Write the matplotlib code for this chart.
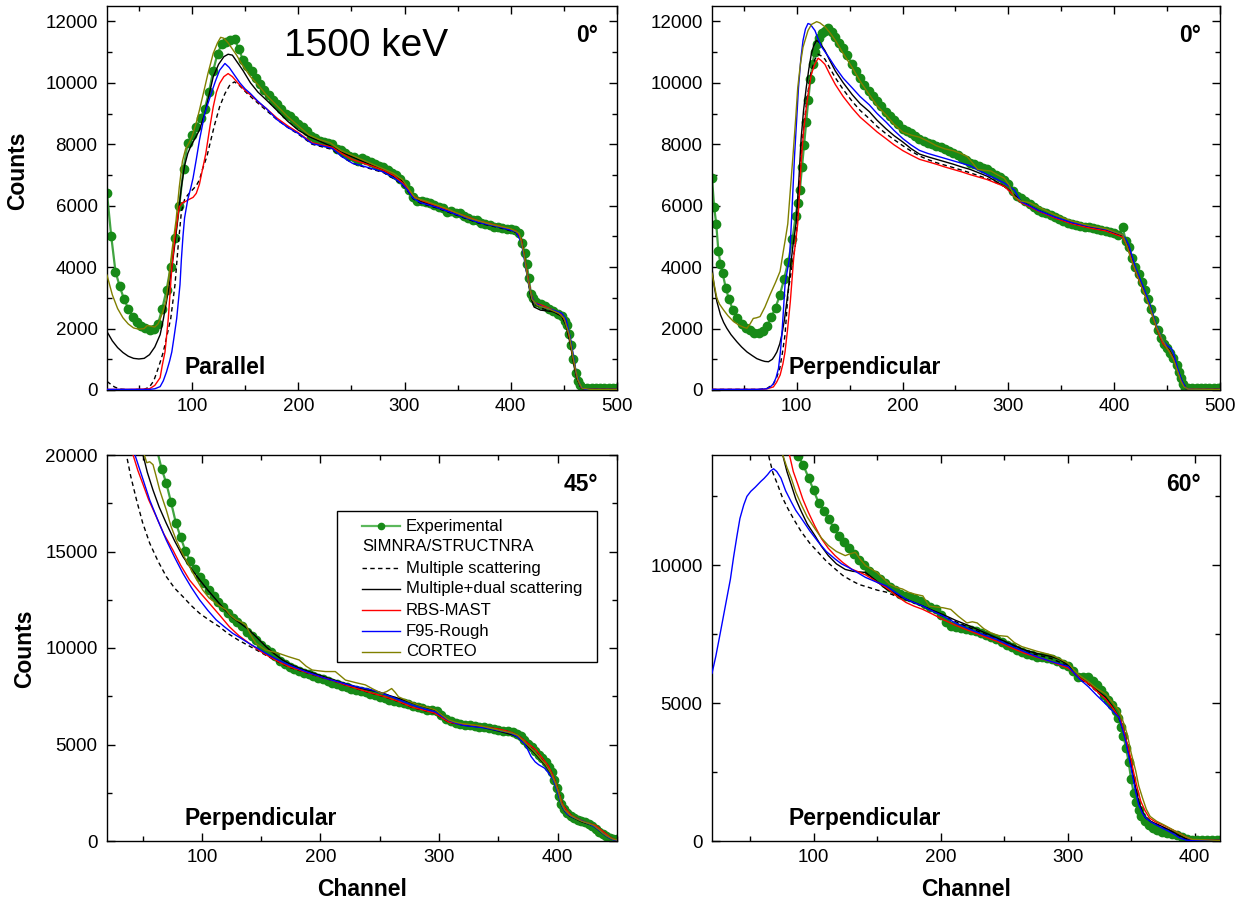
import matplotlib
matplotlib.use("Agg")
import matplotlib.pyplot as plt
from matplotlib.ticker import MultipleLocator
from matplotlib.patches import Rectangle
from matplotlib.lines import Line2D

plt.rcParams['font.family'] = ['Liberation Sans', 'DejaVu Sans']

# ---------------- Data: top-left (0 deg, Parallel) ----------------
TL_EXP_CH = [20, 24, 28, 32, 36, 40, 44, 48, 52, 56, 60, 64, 68, 72, 76, 80, 84, 88, 92, 96, 100, 104, 108, 112, 116, 120, 124, 128, 132, 136, 140, 144, 148, 152, 156, 160, 164, 168, 172, 176, 180, 184, 188, 192, 196, 200, 204, 208, 212, 216, 220, 224, 228, 232, 236, 240, 244, 248, 252, 256, 260, 264, 268, 272, 276, 280, 284, 288, 292, 296, 300, 304, 308, 312, 316, 320, 324, 328, 332, 336, 340, 344, 348, 352, 356, 360, 364, 368, 372, 376, 380, 384, 388, 392, 396, 400, 404, 408, 411, 413, 415, 417, 419, 421, 424, 428, 432, 436, 440, 444, 448, 451, 453, 455, 457, 459, 461, 463, 465, 468, 472, 476, 480, 484, 488, 492, 496, 500]
TL_EXP = [6400, 5000, 3850, 3370, 2960, 2650, 2390, 2220, 2090, 2020, 1960, 1990, 2150, 2650, 3250, 4020, 4950, 6000, 7200, 8050, 8300, 8550, 8850, 9150, 9700, 10400, 10950, 11250, 11340, 11380, 11420, 11100, 10750, 10550, 10380, 10150, 9950, 9750, 9600, 9450, 9300, 9150, 9000, 8920, 8800, 8670, 8550, 8420, 8280, 8200, 8120, 8080, 8050, 8020, 7850, 7820, 7700, 7620, 7570, 7450, 7560, 7480, 7420, 7360, 7300, 7250, 7160, 7080, 7000, 6880, 6720, 6500, 6270, 6150, 6160, 6110, 6100, 6010, 5970, 5920, 5800, 5820, 5770, 5750, 5650, 5610, 5540, 5520, 5430, 5400, 5370, 5300, 5310, 5280, 5250, 5230, 5200, 5100, 4800, 4450, 4100, 3650, 3140, 2980, 2870, 2790, 2720, 2640, 2570, 2490, 2400, 2250, 2100, 1830, 1450, 1000, 540, 300, 150, 70, 50, 50, 50, 50, 50, 50, 50, 50]

TL_MS_CH = [20, 23, 27, 32, 40, 55, 60, 64, 67, 70, 73, 76, 80, 84, 87, 90, 93, 96, 100, 104, 107, 110, 114, 117, 121, 126, 131, 136, 140, 145, 152, 160, 170, 180, 190, 200, 213, 222, 232, 241, 251, 260, 270, 280, 290, 298, 303, 308, 315, 330, 350, 370, 390, 405, 410, 413, 416, 419, 422, 430, 440, 448, 452, 456, 459, 462, 466, 470, 500]
TL_MS = [280, 200, 100, 30, 10, 20, 100, 300, 590, 900, 1240, 1700, 2330, 3430, 4700, 5800, 6200, 6350, 6500, 6650, 6840, 7200, 7600, 8030, 8600, 9220, 9650, 9950, 10030, 9900, 9650, 9400, 9100, 8800, 8550, 8330, 8000, 7920, 7830, 7600, 7380, 7280, 7180, 7080, 6880, 6680, 6480, 6230, 6080, 5930, 5680, 5430, 5280, 5130, 4850, 4250, 3650, 3050, 2800, 2650, 2550, 2420, 2200, 1600, 1000, 450, 80, 20, 20]

TL_MD_CH = [20, 25, 30, 35, 40, 45, 50, 55, 60, 65, 70, 73, 76, 79, 81, 84, 87, 90, 93, 96, 99, 103, 107, 112, 116, 120, 125, 130, 134, 138, 143, 148, 155, 162, 170, 180, 190, 200, 210, 220, 230, 240, 250, 260, 270, 280, 290, 298, 303, 308, 315, 330, 350, 370, 390, 405, 410, 413, 416, 419, 422, 428, 440, 448, 452, 456, 459, 462, 466, 470, 500]
TL_MD = [1900, 1600, 1380, 1220, 1100, 1030, 1010, 1030, 1150, 1400, 1800, 2300, 2880, 3500, 3970, 4800, 5700, 6600, 7300, 7700, 7950, 8200, 8460, 9000, 9600, 10200, 10600, 10850, 10930, 10900, 10650, 10400, 10000, 9700, 9440, 9100, 8750, 8460, 8250, 8100, 7950, 7750, 7600, 7450, 7300, 7150, 6950, 6800, 6550, 6300, 6150, 5950, 5700, 5450, 5300, 5150, 4900, 4300, 3600, 3000, 2700, 2600, 2550, 2400, 2100, 1500, 900, 400, 80, 20, 20]

TL_RBS_CH = [20, 40, 55, 60, 65, 70, 72, 74.6, 77.7, 81, 84, 88, 91, 94, 97, 101, 104, 107, 110, 113, 117, 120, 123, 126, 130, 134, 138, 143, 150, 157, 163, 170, 180, 190, 200, 213, 222, 232, 241, 251, 260, 270, 280, 290, 298, 303, 308, 315, 330, 350, 370, 390, 405, 410, 413, 416, 419, 422, 430, 440, 448, 452, 456, 459, 462, 466, 470, 500]
TL_RBS = [20, 20, 30, 40, 150, 400, 800, 1240, 2330, 3970, 5000, 5960, 6100, 6140, 6200, 6270, 6400, 6700, 7200, 7700, 8600, 9220, 9700, 9980, 10200, 10300, 10200, 10000, 9750, 9550, 9350, 9160, 8850, 8600, 8380, 8050, 7980, 7900, 7700, 7500, 7400, 7280, 7150, 6980, 6750, 6550, 6320, 6180, 6000, 5750, 5500, 5330, 5180, 4900, 4300, 3700, 3150, 2850, 2750, 2600, 2450, 2200, 1600, 1000, 450, 90, 20, 20]

TL_F95_CH = [20, 40, 60, 65, 70, 73, 76, 79, 81, 83, 85.6, 88.7, 90, 91.5, 93, 96, 99, 101, 104, 107, 112, 117, 122, 126, 131, 135, 139, 145, 150, 155, 162, 170, 180, 190, 200, 213, 222, 232, 241, 251, 260, 270, 280, 290, 298, 303, 308, 315, 330, 350, 370, 390, 405, 410, 413, 416, 419, 422, 430, 440, 448, 452, 456, 459, 462, 466, 470, 500]
TL_F95 = [20, 20, 20, 40, 110, 300, 590, 950, 1240, 1700, 2330, 3430, 4250, 5000, 5600, 6200, 6600, 6900, 7500, 8130, 9000, 9540, 10050, 10410, 10630, 10500, 10300, 10000, 9800, 9650, 9400, 9160, 8800, 8550, 8350, 8020, 7950, 7860, 7600, 7380, 7300, 7200, 7100, 6900, 6700, 6500, 6250, 6100, 5950, 5700, 5450, 5300, 5150, 4800, 4200, 3600, 3100, 2850, 2700, 2600, 2500, 2300, 1700, 1100, 500, 100, 20, 20]

TL_COR_CH = [20, 25, 30, 35, 40, 45, 50, 55, 58, 61, 65, 68, 70, 73, 75.5, 78, 81, 85, 88, 91, 94, 97, 100, 104, 107, 111, 115, 120, 124, 127, 130, 134, 138, 142, 147, 155, 163, 170, 180, 190, 200, 210, 220, 230, 240, 250, 260, 270, 280, 290, 298, 305, 310, 320, 340, 360, 380, 400, 408, 412, 416, 420, 425, 435, 445, 450, 455, 459, 463, 467, 475, 500]
TL_COR = [3740, 3100, 2650, 2350, 2150, 2020, 1980, 2000, 2100, 2080, 2050, 2150, 2300, 2600, 2900, 3600, 4500, 5530, 6600, 7450, 7850, 8030, 8250, 8700, 9110, 9700, 10300, 10960, 11300, 11480, 11450, 11300, 11100, 10900, 10600, 10200, 9900, 9600, 9250, 8900, 8600, 8300, 8150, 8050, 7800, 7650, 7500, 7350, 7200, 7050, 6850, 6500, 6250, 6150, 5900, 5600, 5400, 5250, 5100, 4500, 3600, 2950, 2750, 2650, 2500, 2350, 1800, 1000, 350, 60, 20, 20]

# ---------------- Data: top-right (0 deg, Perpendicular) ----------------
TR_EXP_CH = [20, 22, 24, 26, 28, 30, 33, 36, 40, 44, 48, 52, 56, 60, 64, 68, 72, 76, 80, 84, 88, 92, 96, 99, 101, 103, 105, 107, 109, 111, 113, 115, 117, 119, 121, 124, 127, 130, 133, 136, 140, 144, 148, 152, 156, 160, 164, 168, 172, 176, 180, 184, 188, 192, 196, 200, 204, 208, 212, 216, 220, 224, 228, 232, 236, 240, 244, 248, 252, 256, 260, 264, 268, 272, 276, 280, 284, 288, 292, 296, 300, 304, 308, 312, 316, 320, 324, 328, 332, 336, 340, 344, 348, 352, 356, 360, 364, 368, 372, 376, 380, 384, 388, 392, 396, 400, 404, 408, 411, 414, 417, 420, 423, 426, 429, 432, 435, 438, 441, 444, 447, 450, 453, 456, 459, 461, 463, 465, 467, 470, 474, 478, 482, 486, 490, 494, 498, 500]
TR_EXP = [6900, 5960, 5410, 4530, 4100, 3800, 3330, 2950, 2590, 2330, 2160, 2030, 1940, 1870, 1870, 1920, 2090, 2370, 2680, 3080, 3600, 4180, 4900, 5650, 6100, 6510, 7250, 7980, 8720, 9450, 10130, 10620, 11000, 11270, 11450, 11620, 11700, 11770, 11650, 11500, 11300, 11120, 10900, 10620, 10380, 10150, 9930, 9720, 9560, 9400, 9230, 9060, 8930, 8800, 8650, 8500, 8420, 8350, 8260, 8180, 8110, 8050, 8000, 7950, 7900, 7850, 7790, 7730, 7640, 7550, 7480, 7400, 7350, 7300, 7240, 7180, 7090, 7000, 6930, 6850, 6700, 6480, 6330, 6250, 6150, 6050, 5950, 5860, 5800, 5750, 5690, 5630, 5560, 5500, 5450, 5410, 5380, 5350, 5320, 5300, 5270, 5250, 5220, 5190, 5150, 5100, 5040, 5300, 4850, 4650, 4300, 4000, 3790, 3510, 3240, 2970, 2640, 2270, 1950, 1700, 1500, 1370, 1220, 1030, 830, 600, 380, 200, 80, 50, 50, 50, 50, 50, 50, 50, 50, 50]

TR_MS_CH = [20, 50, 65, 72, 78, 81, 84, 86.5, 89, 92, 95, 97, 99.4, 101.5, 104.2, 106.5, 109, 111.5, 113.8, 117, 120.3, 123, 126.7, 131, 136.6, 144, 152.6, 160, 168.7, 176, 184.5, 192, 200.4, 208, 216, 224, 232, 248, 264, 280, 296, 301, 305.6, 312, 320, 328, 344, 360, 376, 392, 408, 411, 414, 417, 420, 427, 433, 440, 446, 452, 456, 460, 464, 468, 475, 500]
TR_MS = [20, 20, 20, 50, 200, 400, 700, 1200, 1800, 3200, 3900, 4350, 4860, 6000, 7620, 8500, 9280, 9900, 10380, 10750, 10930, 10880, 10770, 10500, 10160, 9780, 9390, 9100, 8830, 8580, 8340, 8150, 7950, 7780, 7620, 7500, 7400, 7240, 7070, 6880, 6630, 6480, 6320, 6130, 5990, 5840, 5610, 5420, 5290, 5190, 4990, 4780, 4530, 4180, 3880, 3280, 2780, 2030, 1530, 1280, 1030, 630, 260, 50, 20, 20]

TR_MD_CH = [20, 22, 24.6, 28, 31, 34, 38, 43.5, 48, 53, 58, 62.4, 67, 70, 73.4, 77, 79, 81.3, 84, 86, 88.5, 90.7, 92.5, 94, 96.5, 99.4, 102, 104.2, 106.5, 109, 111.5, 113.8, 116, 118.7, 122, 126.7, 131, 136.6, 144, 152.6, 160, 168.7, 176, 184.5, 192, 200.4, 208, 216, 224, 232, 240, 248, 256, 264, 272, 280, 288, 296, 301, 305.6, 312, 320, 328, 344, 360, 376, 392, 408, 411, 414, 417, 420, 427, 433, 440, 446, 452, 456, 460, 464, 468, 475, 500]
TR_MD = [3970, 3400, 2880, 2450, 2200, 2010, 1800, 1570, 1400, 1240, 1120, 1020, 960, 930, 920, 1000, 1100, 1240, 1500, 1800, 2300, 2880, 3400, 3970, 4700, 5410, 6800, 8180, 9100, 9830, 10450, 10930, 11200, 11380, 11300, 11050, 10750, 10380, 10000, 9610, 9320, 9060, 8780, 8500, 8280, 8070, 7860, 7680, 7590, 7510, 7430, 7350, 7260, 7180, 7070, 6960, 6800, 6630, 6500, 6350, 6150, 6000, 5850, 5620, 5430, 5300, 5200, 5000, 4800, 4550, 4200, 3900, 3300, 2800, 2050, 1550, 1300, 1050, 650, 280, 50, 20, 20]

TR_RBS_CH = [20, 50, 68.6, 73, 78, 81, 84.4, 87, 89, 91.5, 94, 97.2, 101, 102.5, 104.2, 106.5, 109, 111.5, 113.8, 117, 120.3, 123, 126.7, 131, 136.6, 144, 152.6, 160, 168.7, 176, 184.5, 192, 200.4, 208, 216, 224, 232, 240, 248, 256, 264, 272, 280, 288, 296, 301, 305.6, 312, 320, 328, 344, 360, 376, 392, 408, 411, 414, 417, 420, 427, 433, 440, 446, 452, 456, 460, 464, 468, 475, 500]
TR_RBS = [20, 20, 20, 50, 100, 250, 490, 850, 1240, 2000, 2880, 4300, 5410, 6300, 7400, 8400, 9170, 9800, 10270, 10600, 10800, 10730, 10600, 10300, 9940, 9550, 9170, 8880, 8620, 8400, 8180, 7980, 7790, 7650, 7510, 7430, 7350, 7260, 7180, 7100, 7010, 6930, 6850, 6740, 6630, 6480, 6300, 6100, 5970, 5830, 5600, 5410, 5280, 5180, 4980, 4770, 4520, 4170, 3870, 3270, 2770, 2020, 1520, 1270, 1020, 620, 250, 50, 20, 20]

TR_F95_CH = [20, 50, 62, 67, 71.7, 75, 78, 80.5, 82.8, 84.5, 86, 87.5, 89, 91, 93.3, 95.5, 98, 100, 101.7, 104, 106, 108.3, 110.7, 113, 117.3, 120, 123.7, 130, 136.6, 144, 152.6, 160, 168.7, 176, 184.5, 192, 200.4, 208, 216, 224, 232, 240, 248, 256, 264, 272, 280, 288, 296, 301, 305.6, 312, 320, 328, 344, 360, 376, 392, 408, 411, 414, 417, 420, 427, 433, 440, 446, 450, 452, 454, 456, 460, 464, 468, 475, 500]
TR_F95 = [20, 20, 20, 30, 40, 100, 200, 400, 700, 1200, 1800, 2600, 3430, 3850, 4300, 5800, 7620, 8800, 9830, 10800, 11380, 11750, 11930, 11900, 11700, 11450, 11160, 10850, 10500, 10150, 9830, 9550, 9280, 9000, 8720, 8450, 8180, 7980, 7800, 7700, 7620, 7540, 7460, 7380, 7300, 7150, 7010, 6880, 6740, 6620, 6510, 6130, 6000, 5850, 5630, 5450, 5330, 5230, 5050, 4900, 4700, 4350, 4000, 3400, 2850, 2100, 1600, 1450, 1400, 1350, 1200, 700, 300, 50, 20, 20]

TR_COR_CH = [20, 22, 24.6, 27, 30.8, 35, 40.3, 46, 50, 53, 56, 59, 62, 65.4, 70, 74.8, 80, 84.3, 87.4, 89.5, 91.6, 94, 96.5, 99, 101, 103.5, 106, 110.7, 114, 118.9, 122, 126.8, 131, 136.6, 144, 152.6, 160, 168.7, 176, 184.5, 192, 200.4, 208, 216, 224, 232, 240, 248, 255, 261, 266, 271, 277, 283.5, 290, 296, 301, 305.6, 312, 320, 332, 344, 360, 376, 392, 408, 412, 416, 420, 426, 433, 440, 446, 452, 456, 460, 463, 466, 470, 500]
TR_COR = [3800, 3450, 2990, 2800, 2610, 2420, 2230, 2100, 2040, 2010, 2150, 2330, 2350, 2390, 2700, 3100, 3500, 3860, 4520, 4950, 5410, 6500, 7620, 8800, 9830, 10600, 11160, 11700, 11900, 11990, 11950, 11820, 11650, 11380, 10950, 10490, 10050, 9610, 9250, 8950, 8650, 8390, 8300, 8230, 8100, 7950, 7850, 7790, 7700, 7600, 7400, 7180, 7150, 7130, 7000, 6900, 6650, 6290, 6150, 6100, 5900, 5700, 5500, 5350, 5250, 5050, 4700, 4250, 3900, 3350, 2750, 2050, 1600, 1250, 1000, 600, 300, 100, 30, 20]

# ---------------- Data: bottom-left (45 deg, Perpendicular) ----------------
BL_EXP_CH = [58, 62, 66, 70, 74, 78, 82, 86, 90, 94, 98, 102, 106, 110, 114, 118, 122, 126, 130, 134, 138, 142, 146, 150, 154, 158, 162, 166, 170, 174, 178, 182, 186, 190, 194, 198, 202, 206, 210, 214, 218, 222, 226, 230, 234, 238, 242, 246, 250, 254, 258, 262, 266, 270, 274, 278, 282, 286, 290, 294, 298, 302, 306, 310, 314, 318, 322, 326, 330, 334, 338, 342, 346, 350, 354, 358, 362, 366, 369, 372, 375, 378, 381, 384, 387, 390, 393, 395, 397, 399, 401, 403, 405, 408, 411, 414, 417, 420, 423, 426, 429, 432, 435, 438, 441, 444, 447, 450]
BL_EXP = [21500, 20300, 19300, 18540, 17550, 16500, 15750, 15050, 14520, 14100, 13700, 13350, 13030, 12720, 12400, 12100, 11830, 11580, 11370, 11130, 10850, 10620, 10400, 10160, 9950, 9780, 9600, 9350, 9170, 9020, 8900, 8820, 8730, 8640, 8550, 8470, 8380, 8290, 8200, 8120, 8040, 7970, 7900, 7840, 7780, 7730, 7640, 7550, 7470, 7400, 7330, 7270, 7210, 7150, 7080, 7000, 6930, 6870, 6810, 6790, 6740, 6550, 6320, 6200, 6110, 6060, 6020, 5990, 5960, 5930, 5890, 5840, 5790, 5750, 5710, 5680, 5640, 5530, 5420, 5230, 5050, 4870, 4680, 4480, 4290, 4100, 3820, 3550, 3150, 2750, 2350, 1920, 1650, 1440, 1300, 1180, 1090, 1020, 960, 880, 760, 630, 490, 350, 240, 150, 100, 80]

BL_MS_CH = [33, 36.4, 40, 44.9, 50, 56, 63, 70, 77, 84, 91, 98, 106, 114.8, 122, 131, 140, 148, 157, 165, 173.5, 182, 190.3, 200, 210, 220, 232, 243, 254.6, 265, 277, 287, 296.6, 302, 307.8, 315, 330, 340, 350, 356, 362, 367, 372, 377, 382, 387, 392, 396, 399, 402, 404, 408, 412, 417, 422, 427, 432, 436, 440, 444, 447, 450]
BL_MS = [21800, 20000, 18900, 17670, 16500, 15430, 14500, 13700, 13100, 12660, 12200, 11800, 11450, 11100, 10750, 10400, 10100, 9830, 9520, 9260, 9010, 8840, 8680, 8490, 8320, 8100, 7860, 7660, 7460, 7240, 6930, 6770, 6610, 6390, 6160, 6070, 5990, 5890, 5790, 5710, 5590, 5440, 5190, 4940, 4690, 4290, 3890, 3390, 2890, 2290, 1890, 1540, 1290, 1140, 990, 890, 790, 590, 390, 190, 90, 40]

BL_MD_CH = [46, 50.4, 54, 58.8, 64, 70, 77, 84, 91, 98, 105, 112, 119, 126, 133, 139.7, 147, 154, 161, 168, 175, 182, 190, 198.8, 207, 215.5, 224, 232, 240, 249, 257, 265.8, 274, 282.6, 290, 296.6, 302, 307.8, 314, 320, 336, 350, 362, 366, 370, 375, 380, 385, 390, 394, 398, 401, 403, 406, 410, 415, 420, 425, 430, 434, 438, 442, 446, 450]
BL_MD = [21500, 20000, 19100, 18180, 17300, 16460, 15550, 14740, 14100, 13540, 13000, 12500, 12000, 11570, 11250, 10940, 10500, 10070, 9700, 9380, 9150, 8960, 8780, 8600, 8430, 8260, 8100, 7940, 7830, 7730, 7560, 7390, 7220, 7050, 6900, 6780, 6550, 6260, 6100, 6000, 5900, 5700, 5500, 5400, 5200, 4900, 4600, 4250, 3900, 3500, 3000, 2400, 1900, 1550, 1300, 1150, 1000, 900, 800, 600, 400, 220, 100, 50]

BL_RBS_CH = [38, 42, 46, 50, 55, 61.6, 68, 75.6, 82, 89.6, 98, 106.4, 115, 123.2, 131, 140, 148, 156.8, 165, 173.5, 182, 190.3, 200, 209.7, 220, 232, 243, 254.6, 265, 277, 287, 296.6, 302, 307.8, 315, 330, 340, 350, 356, 362, 367, 372, 377, 382, 387, 392, 396, 399, 402, 404, 408, 412, 417, 422, 427, 432, 436, 440, 444, 447, 450]
BL_RBS = [21500, 20000, 19200, 18540, 17700, 16800, 15900, 15070, 14300, 13520, 12900, 12310, 11700, 11100, 10650, 10240, 9880, 9550, 9280, 9030, 8860, 8690, 8500, 8330, 8100, 7870, 7670, 7470, 7250, 6940, 6780, 6620, 6400, 6170, 6080, 6000, 5900, 5800, 5720, 5600, 5450, 5200, 4950, 4700, 4300, 3900, 3400, 2900, 2300, 1900, 1550, 1300, 1150, 1000, 900, 800, 600, 400, 200, 100, 50]

BL_F95_CH = [40, 43.6, 50, 56, 63, 70, 77, 84, 91, 98, 105, 112, 119, 126, 133, 139.7, 147, 154, 162, 170.7, 179, 187.5, 196, 204, 214, 223.8, 233, 243.4, 252, 260, 268, 277, 287, 296.6, 302, 307.8, 314, 320, 330, 340, 350, 360, 366, 369, 372, 375, 377.5, 381, 384, 388.8, 392, 396, 399, 401, 403, 405, 408, 412, 416, 420, 426, 432, 436, 440, 443, 446, 450]
BL_F95 = [21300, 20000, 18800, 17670, 16600, 15590, 14700, 13870, 13150, 12500, 11950, 11460, 11100, 10760, 10500, 10240, 9980, 9720, 9450, 9200, 8980, 8780, 8600, 8430, 8260, 8090, 7960, 7830, 7650, 7470, 7270, 7050, 6850, 6700, 6480, 6260, 6100, 6000, 5920, 5850, 5720, 5600, 5400, 5200, 5050, 4700, 4380, 4100, 3950, 3780, 3550, 3200, 2700, 2300, 1900, 1650, 1400, 1250, 1150, 1050, 900, 700, 500, 300, 180, 80, 40]

BL_COR_CH = [49, 51.5, 53.5, 56, 58.8, 61, 64.4, 67, 70, 74, 78.4, 84, 89.6, 95, 100.8, 106, 112, 116, 120.3, 124, 128.8, 133, 137, 141, 145.6, 150, 154, 160, 165, 173, 182, 188, 193, 198, 204, 212.5, 217, 221, 230, 237.8, 245, 251.8, 256, 260, 263, 265.8, 274, 282.6, 290, 296.6, 302, 307.8, 314, 320, 336, 350, 362, 366, 370, 375, 380, 385, 390, 394, 398, 401, 403, 406, 410, 415, 420, 425, 430, 434, 438, 442, 446, 450]
BL_COR = [21000, 20000, 19600, 19650, 19500, 19000, 18190, 17700, 17150, 16300, 15590, 14850, 14220, 13600, 13000, 12600, 12310, 12150, 11980, 11700, 11460, 11350, 11200, 10700, 10240, 10050, 9890, 9800, 9720, 9550, 9380, 9050, 8860, 8820, 8780, 8780, 8550, 8340, 8200, 8090, 7850, 7650, 7750, 7900, 7700, 7470, 7250, 7050, 6920, 6800, 6550, 6280, 6150, 6080, 5950, 5750, 5580, 5480, 5250, 4950, 4650, 4300, 3950, 3550, 3000, 2450, 1950, 1600, 1350, 1180, 1030, 930, 820, 630, 420, 240, 110, 50]

# ---------------- Data: bottom-right (60 deg, Perpendicular) ----------------
BR_EXP_CH = [84, 88, 92, 96, 100, 104, 108, 112, 116, 120, 124, 128, 132, 136, 140, 144, 148, 152, 156, 160, 164, 168, 172, 176, 180, 184, 188, 192, 196, 200, 204, 208, 212, 216, 220, 224, 228, 232, 236, 240, 244, 248, 252, 256, 260, 264, 268, 272, 276, 280, 284, 288, 292, 296, 300, 304, 308, 312, 316, 320, 323, 326, 329, 332, 335, 338, 340, 342, 344, 346, 348, 350, 352, 354, 356, 358, 361, 364, 367, 370, 374, 378, 382, 386, 390, 394, 398, 402, 406, 410, 414, 418, 420]
BR_EXP = [15000, 13980, 13620, 13180, 12720, 12260, 11960, 11670, 11340, 11050, 10830, 10620, 10400, 10200, 10000, 9800, 9640, 9500, 9370, 9230, 9110, 8970, 8880, 8840, 8780, 8690, 8600, 8500, 8420, 8200, 7950, 7790, 7770, 7740, 7700, 7660, 7600, 7540, 7480, 7410, 7320, 7220, 7120, 7030, 6930, 6860, 6800, 6740, 6690, 6660, 6620, 6590, 6520, 6430, 6340, 6150, 5960, 5950, 5950, 5800, 5660, 5480, 5300, 5120, 4920, 4700, 4450, 4150, 3800, 3380, 2880, 2250, 1750, 1400, 1120, 900, 720, 580, 470, 400, 340, 290, 250, 200, 140, 80, 50, 50, 50, 50, 50, 50, 50]

BR_MS_CH = [62, 65, 68, 71.7, 75.5, 79.7, 85, 90.4, 97, 103.6, 110, 116.9, 123, 130, 136, 143.3, 150, 156.9, 165, 172.8, 179, 186, 194, 202, 212, 223.4, 234, 244.6, 255, 266, 276, 287, 294, 300.5, 305, 310, 316.5, 323, 329.8, 335, 340.5, 343, 345.7, 348.5, 351, 353.5, 356, 359, 361.7, 366, 372, 378, 383, 388, 393, 398, 420]
BR_MS = [14800, 13890, 13350, 12920, 12450, 12060, 11620, 11210, 10800, 10470, 10150, 9870, 9630, 9440, 9300, 9200, 9100, 9030, 8880, 8750, 8640, 8520, 8340, 8160, 7950, 7720, 7510, 7310, 7100, 6880, 6750, 6620, 6480, 6320, 6100, 5890, 5680, 5420, 5170, 4850, 4450, 4120, 3700, 3100, 2480, 1900, 1380, 1020, 820, 690, 560, 430, 310, 180, 80, 30, 20]

BR_MD_CH = [72, 75.7, 79, 82.4, 86, 90.4, 95, 101, 106, 111.6, 118, 124.9, 131, 136, 140.9, 149, 157, 165, 172.8, 179, 186, 194, 202, 212, 223.4, 234, 244.6, 255, 266, 276, 287, 293, 298, 302, 305, 310, 316.5, 323, 329.8, 335, 340.5, 343, 345.7, 348.5, 351, 353.5, 356, 359, 361.7, 366, 372, 378, 383, 388, 393, 398, 420]
BR_MD = [14800, 14000, 13400, 12920, 12400, 11940, 11500, 11080, 10700, 10350, 10050, 9850, 9780, 9760, 9740, 9450, 9140, 8950, 8770, 8650, 8520, 8360, 8210, 8000, 7790, 7570, 7360, 7150, 6930, 6800, 6690, 6600, 6450, 6300, 6100, 5900, 5710, 5460, 5220, 4900, 4480, 4150, 3750, 3150, 2530, 1950, 1430, 1050, 830, 700, 580, 450, 330, 200, 90, 30, 20]

BR_RBS_CH = [77, 81, 84, 87.7, 91.5, 95.7, 101, 106.3, 111.5, 116.9, 123, 130, 136, 141, 149, 157, 165, 172.8, 179, 186, 194, 202, 212, 223.4, 234, 244.6, 255, 266, 276, 287, 294, 300.5, 305, 310, 316.5, 323, 329.8, 336, 342, 344.5, 347, 350, 352.4, 355, 357.7, 361, 364.5, 369, 375, 382, 388.5, 393, 398, 420]
BR_RBS = [15000, 14000, 13400, 12920, 12400, 11940, 11420, 10960, 10620, 10350, 10100, 9860, 9750, 9650, 9420, 9200, 8900, 8650, 8520, 8400, 8220, 8030, 7820, 7610, 7420, 7240, 7020, 6810, 6660, 6510, 6380, 6270, 6100, 5900, 5710, 5430, 5160, 4800, 4360, 3950, 3510, 2950, 2410, 1900, 1430, 1100, 830, 700, 580, 420, 270, 150, 50, 20]

BR_F95_CH = [20, 23, 26.5, 30, 34.5, 37, 39.7, 42, 45, 47.5, 50.5, 54, 58.4, 61, 63.8, 66, 68.5, 71, 74.3, 78, 82.4, 86, 90.4, 97, 103.6, 110, 116.9, 122, 127.6, 134, 140.9, 149, 156.9, 165, 172.8, 179, 186, 194, 202, 212, 223.4, 234, 244.6, 255, 266, 276, 287, 294, 300.5, 305, 310, 316.5, 323, 329.8, 335, 340.5, 343, 345.7, 348.5, 351, 353.5, 356, 359, 361.7, 366, 372.4, 378, 383, 388, 393.5, 400, 420]
BR_F95 = [6080, 6700, 7540, 8400, 9500, 10300, 11080, 11700, 12190, 12500, 12680, 12830, 13040, 13150, 13290, 13420, 13500, 13400, 13160, 12700, 12300, 11990, 11700, 11250, 10850, 10500, 10230, 10050, 9920, 9750, 9560, 9400, 9260, 9000, 8770, 8650, 8520, 8330, 8160, 7900, 7670, 7480, 7300, 7080, 6870, 6680, 6510, 6420, 6330, 6100, 5850, 5590, 5280, 4980, 4730, 4480, 4100, 3630, 3000, 2410, 1800, 1310, 1000, 830, 680, 520, 390, 270, 120, 30, 20, 20]

BR_COR_CH = [72, 75.7, 79, 82.4, 86, 90.4, 95, 101, 106, 111.6, 118, 124.9, 129, 132.9, 137, 140.9, 146, 150, 155, 159.5, 165, 170, 175, 180, 186, 191, 196, 202, 208, 214, 220.7, 225, 228.8, 234, 240, 246, 252.6, 258, 264, 276, 287, 294, 300.5, 305, 309, 316.5, 323, 329.8, 335, 340.5, 344, 347, 350, 353.7, 356, 359, 362, 365, 370, 376, 382, 388, 393, 398, 420]
BR_COR = [14800, 14000, 13550, 13160, 12650, 12190, 11750, 11330, 11000, 10720, 10500, 10350, 10420, 10470, 10200, 9990, 9850, 9740, 9520, 9320, 9200, 9140, 9020, 8950, 8890, 8520, 8490, 8460, 8400, 8150, 7910, 7950, 7910, 7700, 7540, 7450, 7420, 7200, 7050, 6880, 6750, 6600, 6450, 6200, 6020, 5780, 5530, 5340, 5050, 4730, 4300, 3870, 3200, 2530, 2000, 1560, 1150, 890, 720, 580, 430, 270, 150, 60, 20]

# ---------------- Labels ----------------
LEGEND_LABELS = ["Experimental", "SIMNRA/STRUCTNRA", "Multiple scattering",
                 "Multiple+dual scattering", "RBS-MAST", "F95-Rough", "CORTEO"]
ANGLES = ["0\u00b0", "0\u00b0", "45\u00b0", "60\u00b0"]
ORIENT = ["Parallel", "Perpendicular", "Perpendicular", "Perpendicular"]
ENERGY_LABEL = "1500 keV"

# ---------------- Styles ----------------
EXP_LINE = '#41a441'
EXP_MARK = '#178a17'
SIM_STYLES = [
    dict(color='black', ls=(0, (3.2, 2.4)), lw=1.0),   # Multiple scattering
    dict(color='black', ls='-', lw=1.0),               # Multiple+dual
    dict(color='#ff0000', ls='-', lw=1.0),             # RBS-MAST
    dict(color='#0000ff', ls='-', lw=1.0),             # F95-Rough
    dict(color='#808000', ls='-', lw=1.0),             # CORTEO
]

W, H = 1249, 908
fig = plt.figure(figsize=(W / 100, H / 100), dpi=100)


def ax_at(l, t, r, b):
    return fig.add_axes([l / W, 1 - b / H, (r - l) / W, (b - t) / H])


ax_tl = ax_at(107, 6, 617, 390)
ax_tr = ax_at(712, 6, 1220, 390)
ax_bl = ax_at(107, 455, 617, 841)
ax_br = ax_at(712, 455, 1220, 841)

panels = [
    (ax_tl, (TL_EXP_CH, TL_EXP), [(TL_MS_CH, TL_MS), (TL_MD_CH, TL_MD), (TL_RBS_CH, TL_RBS), (TL_F95_CH, TL_F95), (TL_COR_CH, TL_COR)],
     (20, 500), (0, 12500), 2000, 1000),
    (ax_tr, (TR_EXP_CH, TR_EXP), [(TR_MS_CH, TR_MS), (TR_MD_CH, TR_MD), (TR_RBS_CH, TR_RBS), (TR_F95_CH, TR_F95), (TR_COR_CH, TR_COR)],
     (20, 500), (0, 12500), 2000, 1000),
    (ax_bl, (BL_EXP_CH, BL_EXP), [(BL_MS_CH, BL_MS), (BL_MD_CH, BL_MD), (BL_RBS_CH, BL_RBS), (BL_F95_CH, BL_F95), (BL_COR_CH, BL_COR)],
     (20, 450), (0, 20000), 5000, 2500),
    (ax_br, (BR_EXP_CH, BR_EXP), [(BR_MS_CH, BR_MS), (BR_MD_CH, BR_MD), (BR_RBS_CH, BR_RBS), (BR_F95_CH, BR_F95), (BR_COR_CH, BR_COR)],
     (20, 420), (0, 14000), 5000, 2500),
]

for i, (ax, exp, sims, xl, yl, ymaj, ymin) in enumerate(panels):
    ax.plot(exp[0], exp[1], color=EXP_LINE, lw=1.6, marker='o', ms=6,
            mfc=EXP_MARK, mec=EXP_MARK, zorder=2)
    for (xs, ys), st in zip(sims, SIM_STYLES):
        ax.plot(xs, ys, zorder=3, **st)
    ax.set_xlim(*xl)
    ax.set_ylim(*yl)
    ax.xaxis.set_major_locator(MultipleLocator(100))
    ax.xaxis.set_minor_locator(MultipleLocator(50))
    ax.yaxis.set_major_locator(MultipleLocator(ymaj))
    ax.yaxis.set_minor_locator(MultipleLocator(ymin))
    ax.tick_params(which='both', direction='in', top=True, right=True,
                   labelsize=13.5, width=1.0, colors='black')
    ax.tick_params(which='major', length=6)
    ax.tick_params(which='minor', length=3.5)
    ax.tick_params(axis='x', pad=5.5)
    ax.tick_params(axis='y', pad=6.8)
    for s in ax.spines.values():
        s.set_linewidth(1.0)
    ax.text(0.963, 0.906, ANGLES[i], transform=ax.transAxes, ha='right',
            va='baseline', fontsize=16.5, fontweight='bold')
    ax.text(0.151, 0.042, ORIENT[i], transform=ax.transAxes, ha='left',
            va='baseline', fontsize=16.5, fontweight='bold')

ax_tl.text(0.347, 0.869, ENERGY_LABEL, transform=ax_tl.transAxes, ha='left',
           va='baseline', fontsize=28)

for ax in (ax_tl, ax_bl):
    ax.set_ylabel("Counts", fontsize=16.5, fontweight='bold')
ax_tl.yaxis.set_label_coords(-0.153, 0.57)
ax_bl.yaxis.set_label_coords(-0.138, 0.497)
for ax in (ax_bl, ax_br):
    ax.set_xlabel("Channel", fontsize=16.5, fontweight='bold')
    ax.xaxis.set_label_coords(0.5, -0.095)

# ---------------- Manual legend in 45 deg panel ----------------
lax = ax_bl
lx0, lx1, ly0, ly1 = 0.451, 0.961, 0.464, 0.855
lax.add_patch(Rectangle((lx0, ly0), lx1 - lx0, ly1 - ly0, transform=lax.transAxes,
                        facecolor='white', edgecolor='black', lw=1.0, zorder=5))
rows = [0.816, 0.762, 0.707, 0.653, 0.598, 0.544, 0.490]
hx0, hx1, tx = 0.500, 0.575, 0.586
lax.add_line(Line2D([hx0, hx1], [rows[0], rows[0]], transform=lax.transAxes,
                    color='#5cb85c', lw=1.6, zorder=6))
lax.add_line(Line2D([(hx0 + hx1) / 2], [rows[0]], transform=lax.transAxes,
                    marker='o', ms=4.5, mfc=EXP_MARK, mec=EXP_MARK, zorder=7))
lax.text(tx, rows[0], LEGEND_LABELS[0], transform=lax.transAxes, va='center',
         ha='left', fontsize=12, zorder=7)
lax.text(hx0, rows[1], LEGEND_LABELS[1], transform=lax.transAxes, va='center',
         ha='left', fontsize=12, zorder=7)
for k, st in enumerate(SIM_STYLES):
    y = rows[k + 2]
    lax.add_line(Line2D([hx0, hx1], [y, y], transform=lax.transAxes, zorder=6, **st))
    lax.text(tx, y, LEGEND_LABELS[k + 2], transform=lax.transAxes, va='center',
             ha='left', fontsize=12, zorder=7)

fig.savefig("out.png", dpi=100, facecolor='white')
